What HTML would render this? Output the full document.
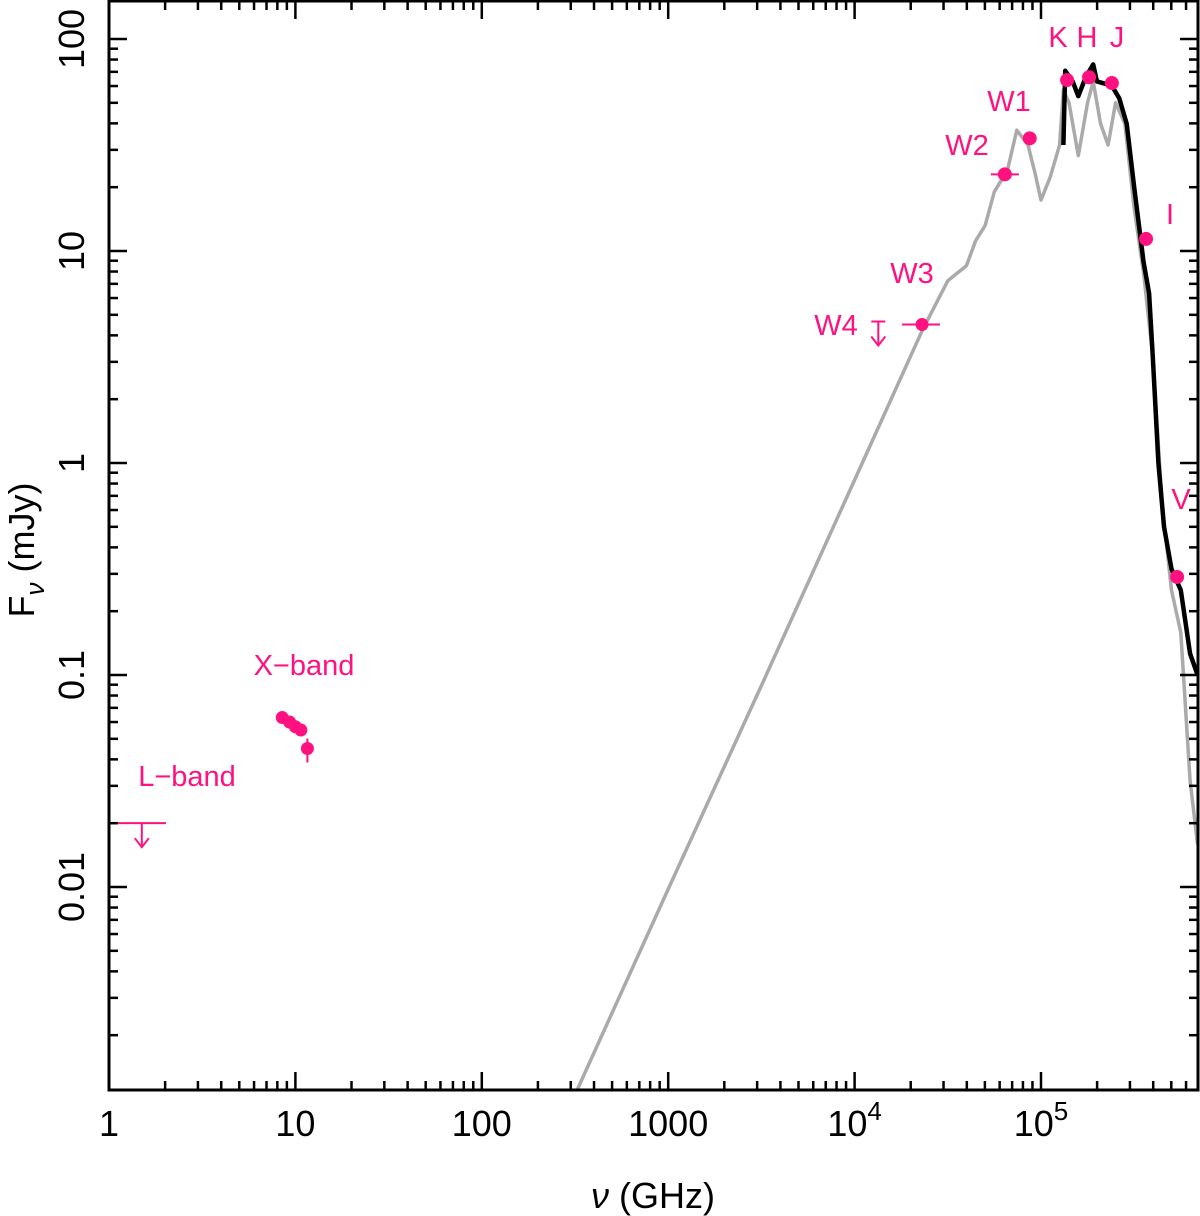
<!DOCTYPE html>
<html><head><meta charset="utf-8"><style>
body{margin:0;background:#fff}
svg{display:block;font-family:"Liberation Sans",sans-serif}
</style></head><body>
<svg id="c" width="1200" height="1216" viewBox="0 0 1200 1216"></svg>
<script>
const modelLogNu=[2.51,3.0,3.5,4.0,4.36,4.5,4.6,4.65,4.7,4.75,4.82,4.87,4.93,4.97,5.0,5.05,5.1,5.12,5.15,5.2,5.25,5.28,5.32,5.36,5.4,5.45,5.5,5.55,5.6,5.65,5.7,5.75,5.8,5.84];
const modelLogF=[-2.96,-2.01,-1.05,-0.08,0.62,0.86,0.93,1.05,1.12,1.28,1.38,1.57,1.5,1.36,1.24,1.35,1.5,1.76,1.7,1.45,1.7,1.8,1.6,1.5,1.7,1.6,1.2,0.9,0.5,-0.2,-0.6,-0.8,-1.5,-1.8];
const obsLogNu=[5.12,5.13,5.17,5.2,5.24,5.28,5.3,5.38,5.42,5.46,5.5,5.55,5.58,5.6,5.63,5.66,5.7,5.75,5.8,5.84];
const obsLogF=[1.5,1.85,1.8,1.73,1.82,1.88,1.8,1.78,1.72,1.6,1.3,0.95,0.8,0.5,0.0,-0.3,-0.5,-0.6,-0.9,-1.0];
const ptNames=["W2","W1","K","H","J","I","V"];
const ptNu=[64000,87000,138000,181000,240000,366000,537000];
const ptF=[23,34,64,66,62,11.4,0.29];
const xbandNu=[8.5,9.3,10.0,10.7,11.6];
const xbandF=[0.063,0.06,0.057,0.055,0.045];
const w3Nu=[23000], w3F=[4.5];
const limNames=["L-band","W4"];
const limNu=[1.5,13400];
const limF=[0.02,4.5];
const xTickLabels=["1","10","100","1000","10^4","10^5"];
const yTickLabels=["0.01","0.1","1","10","100"];

const L=109,R=1198,T=1,B=1090,DX=186.4,DY=212;
const X=v=>L+Math.log10(v)*DX;
const XL=l=>L+l*DX;
const YL=l=>887-(l+2)*DY;
const Y=v=>YL(Math.log10(v));
const NS="http://www.w3.org/2000/svg";
const svg=document.getElementById('c');
function mk(t,a,p){const e=document.createElementNS(NS,t);for(const k in a)e.setAttribute(k,a[k]);(p||svg).appendChild(e);return e;}
const PINK="#ff1280";

let d=modelLogNu.map((l,i)=>(i?'L':'M')+XL(l).toFixed(1)+','+YL(modelLogF[i]).toFixed(1)).join('');
let e=mk('path',{d:d,fill:'none',stroke:'#aaa','stroke-width':3.5,'stroke-linejoin':'round'});


d=obsLogNu.map((l,i)=>(i?'L':'M')+XL(l).toFixed(1)+','+YL(obsLogF[i]).toFixed(1)).join('');
e=mk('path',{d:d,fill:'none',stroke:'#000','stroke-width':4.5,'stroke-linejoin':'round'});



const lbl={W2:[967,155],W1:[1009,111],K:[1058,47],H:[1087,47],J:[1117,47],I:[1170,224],V:[1181,509]};
ptNames.forEach((n,i)=>{
  const c=mk('circle',{cx:X(ptNu[i]),cy:Y(ptF[i]),r:7,fill:PINK});
  
  
  const t=mk('text',{x:lbl[n][0],y:lbl[n][1],fill:PINK,'font-size':29,'text-anchor':'middle'});t.textContent=n;
  
  
});
mk('line',{x1:X(ptNu[0])-14,x2:X(ptNu[0])+14,y1:Y(ptF[0]),y2:Y(ptF[0]),stroke:PINK,'stroke-width':2});
xbandNu.forEach((v,i)=>{
  const c=mk('circle',{cx:X(v),cy:Y(xbandF[i]),r:6.5,fill:PINK});
  
  
});
mk('line',{x1:X(11.6),x2:X(11.6),y1:Y(0.045)-10,y2:Y(0.045)+14,stroke:PINK,'stroke-width':2});
let t=mk('text',{x:304,y:675,fill:PINK,'font-size':29,'text-anchor':'middle'});t.textContent='X\u2212band';

e=mk('circle',{cx:X(w3Nu[0]),cy:Y(w3F[0]),r:6.5,fill:PINK});

mk('line',{x1:X(w3Nu[0])-20,x2:X(w3Nu[0])+18,y1:Y(w3F[0]),y2:Y(w3F[0]),stroke:PINK,'stroke-width':2});
t=mk('text',{x:912,y:283,fill:PINK,'font-size':29,'text-anchor':'middle'});t.textContent='W3';

limNames.forEach((n,i)=>{
  const x=X(limNu[i]),y=Y(limF[i]);
  const g=mk('g',{stroke:PINK,'stroke-width':2,fill:'none'});
  
  
  if(i===0){mk('line',{x1:L,x2:166,y1:y,y2:y},g);}
  else{mk('line',{x1:x-7,x2:x+7,y1:y-3,y2:y-3},g);}
  const y0=i===0?y:y-3;
  mk('line',{x1:x,x2:x,y1:y0,y2:y0+24},g);
  mk('path',{d:`M${x-7},${y0+15}L${x},${y0+24}L${x+7},${y0+15}`},g);
});
t=mk('text',{x:187,y:786,fill:PINK,'font-size':29,'text-anchor':'middle'});t.textContent='L\u2212band';

t=mk('text',{x:836,y:335,fill:PINK,'font-size':29,'text-anchor':'middle'});t.textContent='W4';


e=mk('rect',{x:L,y:T,width:R-L,height:B-T,fill:'none',stroke:'#000','stroke-width':3});

const tk=mk('g',{stroke:'#000','stroke-width':2.5});

for(let dcd=0;dcd<6;dcd++)for(let m=1;m<10;m++){
  const x=XL(dcd+Math.log10(m));if(x>R)continue;
  const len=m===1?18:9;
  mk('line',{x1:x,x2:x,y1:B,y2:B-len},tk);mk('line',{x1:x,x2:x,y1:T,y2:T+len},tk);
}
for(let dcd=-3;dcd<3;dcd++)for(let m=1;m<10;m++){
  const y=YL(dcd+Math.log10(m));if(y<T||y>B)continue;
  const len=m===1?18:9;
  mk('line',{x1:L,x2:L+len,y1:y,y2:y},tk);mk('line',{x1:R,x2:R-len,y1:y,y2:y},tk);
}
xTickLabels.forEach((s,i)=>{
  const te=mk('text',{x:XL(i),y:1136,'font-size':36,'text-anchor':'middle'});
  
  if(s.startsWith('10^')){te.textContent='10';const sp=mk('tspan',{dy:-16,'font-size':26},te);sp.textContent=s.slice(3);}
  else te.textContent=s;
});
yTickLabels.forEach((s,i)=>{
  const y=YL(i-2);
  const te=mk('text',{x:0,y:0,'font-size':36,'text-anchor':'middle',transform:`translate(84,${y}) rotate(-90)`});
  te.textContent=s;
  
});
t=mk('text',{x:653,y:1208,'font-size':36,'text-anchor':'middle'});
t.innerHTML='<tspan font-style="italic">\u03BD</tspan> (GHz)';

t=mk('text',{x:0,y:0,'font-size':36,'text-anchor':'middle',transform:'translate(34,550) rotate(-90)'});
t.innerHTML='F<tspan font-size="26" dy="10" font-style="italic">\u03BD</tspan><tspan dy="-10"> (mJy)</tspan>';

</script>
</body></html>
